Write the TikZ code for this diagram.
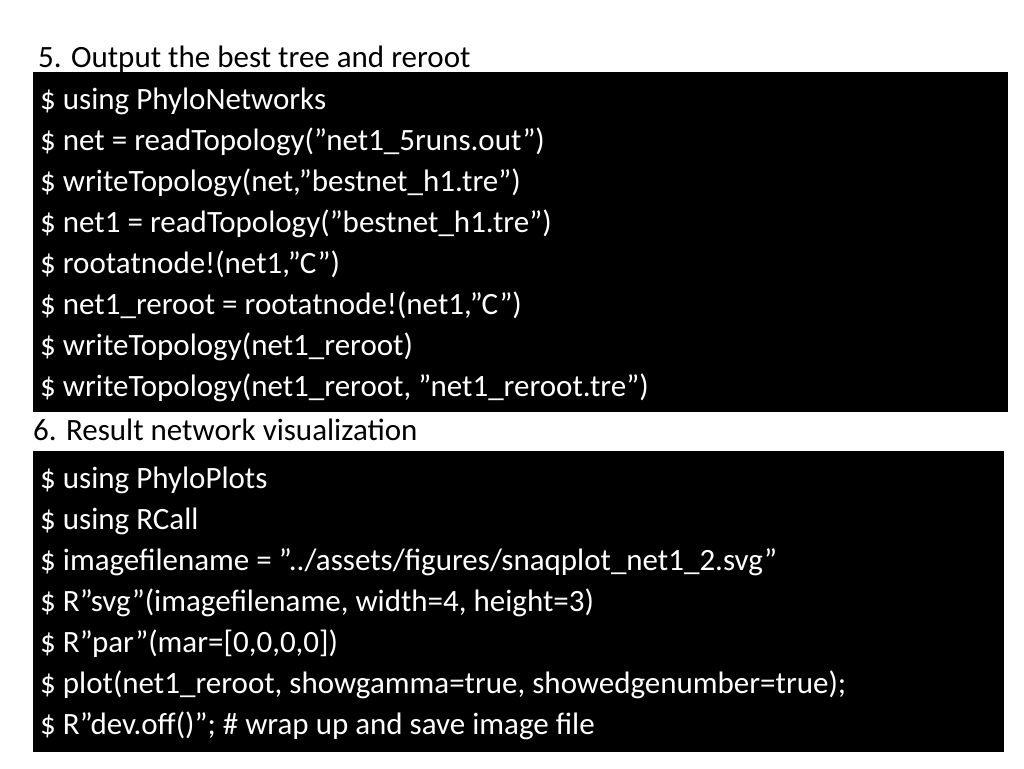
\documentclass[tikz,border=0pt]{standalone}
\usepackage{fontspec}
\setmainfont{Carlito}
\tikzset{
  codebox/.style={fill=black, draw=none},
  codeline/.style={anchor=base west, text=white, inner sep=0pt, font=\fontsize{31}{37}\selectfont},
  headline/.style={anchor=base west, text=black, inner sep=0pt, font=\fontsize{31}{37}\selectfont}
}
\begin{document}
\begin{tikzpicture}[x=1pt, y=-1pt]
  \useasboundingbox[fill=white] (0,0) rectangle (1024,768);
  % step 5
  \node[headline] (h5) at (38,67) {5. Output the best tree and reroot};
  \fill[codebox] (33,72) rectangle (1008,412);
  \node[codeline] (a1) at (40,109) {\$ using PhyloNetworks};
  \node[codeline] (a2) at (40,150) {\$ net = readTopology("net1\_5runs.out")};
  \node[codeline] (a3) at (40,191) {\$ writeTopology(net,"bestnet\_h1.tre")};
  \node[codeline] (a4) at (40,232) {\$ net1 = readTopology("bestnet\_h1.tre")};
  \node[codeline] (a5) at (40,273) {\$ rootatnode!(net1,"C")};
  \node[codeline] (a6) at (40,314) {\$ net1\_reroot = rootatnode!(net1,"C")};
  \node[codeline] (a7) at (40,355) {\$ writeTopology(net1\_reroot)};
  \node[codeline] (a8) at (40,396) {\$ writeTopology(net1\_reroot, "net1\_reroot.tre")};
  % step 6
  \node[headline] (h6) at (33,440) {6. Result network visualization};
  \fill[codebox] (33,451) rectangle (1004,752);
  \node[codeline] (b1) at (40,488) {\$ using PhyloPlots};
  \node[codeline] (b2) at (40,529) {\$ using RCall};
  \node[codeline] (b3) at (40,570) {\$ imagefilename = "../assets/figures/snaqplot\_net1\_2.svg"};
  \node[codeline] (b4) at (40,611) {\$ R"svg"(imagefilename, width=4, height=3)};
  \node[codeline] (b5) at (40,652) {\$ R"par"(mar=[0,0,0,0])};
  \node[codeline] (b6) at (40,693) {\$ plot(net1\_reroot, showgamma=true, showedgenumber=true);};
  \node[codeline] (b7) at (40,734) {\$ R"dev.off()"; \# wrap up and save image file};
\end{tikzpicture}
\end{document}
